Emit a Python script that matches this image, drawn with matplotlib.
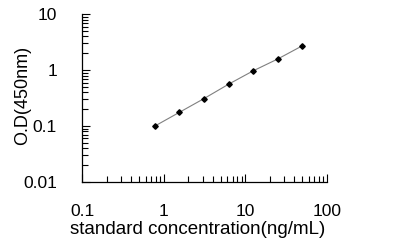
import numpy as np
import matplotlib
matplotlib.use('Agg')
import matplotlib.pyplot as plt
from matplotlib.ticker import LogLocator, FuncFormatter, NullFormatter

plt.rcParams['font.family'] = ['Liberation Sans', 'DejaVu Sans']

# standard curve values
conc = [0.78, 1.56, 3.125, 6.25, 12.5, 25, 50]
od = [0.10, 0.176, 0.31, 0.56, 0.97, 1.58, 2.72]

fig = plt.figure(figsize=(3.95, 2.48), dpi=100)
ax = fig.add_axes([0.2076, 0.266, 0.620, 0.677])

ax.plot(conc, od, color='#808080', lw=0.8, marker='D', ms=2.8,
        mfc='black', mec='black')

ax.set_xscale('log')
ax.set_yscale('log')
ax.set_xlim(0.1, 100)
ax.set_ylim(0.01, 10)

for spine in ['top', 'right']:
    ax.spines[spine].set_visible(False)
for spine in ['left', 'bottom']:
    ax.spines[spine].set_linewidth(0.9)

fmt = FuncFormatter(lambda v, p: '%g' % v)
ax.xaxis.set_major_formatter(fmt)
ax.yaxis.set_major_formatter(fmt)
ax.xaxis.set_minor_formatter(NullFormatter())
ax.yaxis.set_minor_formatter(NullFormatter())
ax.xaxis.set_minor_locator(LogLocator(base=10, subs=np.arange(2, 10)))
ax.yaxis.set_minor_locator(LogLocator(base=10, subs=np.arange(2, 10)))

ax.tick_params(which='major', direction='in', length=6, width=0.8,
               labelsize=12.5, pad=16)
ax.tick_params(which='minor', direction='in', length=4, width=0.8)
ax.tick_params(axis='y', which='major', pad=18)

ax.set_xlabel('standard concentration(ng/mL)', fontsize=13.5)
ax.set_ylabel('O.D(450nm)', fontsize=13)
ax.xaxis.set_label_coords(0.471, -0.232)
ax.yaxis.set_label_coords(-0.208, 0.518)

fig.savefig('out.png', dpi=100)
